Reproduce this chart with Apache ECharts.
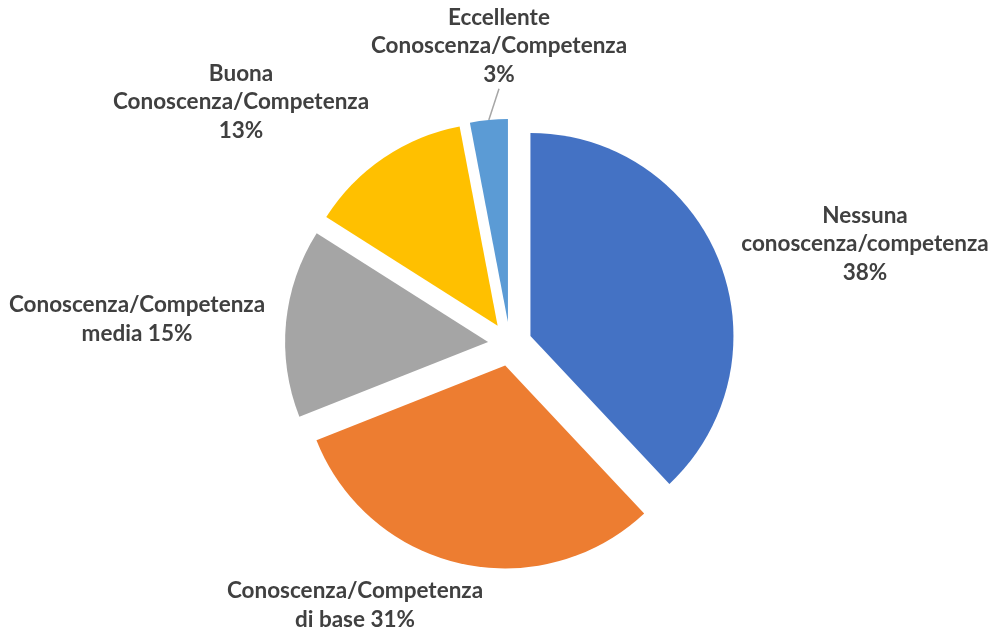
<!DOCTYPE html>
<html>
<head>
<meta charset="utf-8">
<script src="https://cdn.jsdelivr.net/npm/echarts@6/dist/echarts.min.js"></script>
<style>
  html, body { margin: 0; padding: 0; background: #fff; }
  #chartBox { width: 994px; height: 634px; }
</style>
</head>
<body>
<div id="chartBox"></div>
<script>
// categorie e valori (percentuali)
const categories = [
  'Nessuna\nconoscenza/competenza',
  'Conoscenza/Competenza\ndi base',
  'Conoscenza/Competenza\nmedia',
  'Buona\nConoscenza/Competenza',
  'Eccellente\nConoscenza/Competenza'
]
const values = [38, 31, 15, 13, 3]
const colors = ['#4472C4', '#ED7D31', '#A5A5A5', '#FFC000', '#5B9BD5']
// il numero va sulla stessa riga per media e base
const pctInline = [false, true, true, false, false]

// centro del testo delle etichette
const labelPos = [
  [865, 244],
  [355, 605],
  [137, 319],
  [241, 102],
  [499, 46]
]

const cx = 510
const cy = 344
const radius = 203
const explode = 22 // px, spostamento di ogni fetta

const total = values.reduce((a, b) => a + b, 0)

// una serie per fetta, con il centro spostato lungo la bisettrice
// (selectedOffset non va bene: lo stato "select" rimette a posto le etichette)
let cum = 0
const series = values.map((v, i) => {
  const mid = (cum + v / 2) / total * Math.PI * 2
  cum += v
  return {
    type: 'pie',
    center: [cx + explode * Math.sin(mid), cy - explode * Math.cos(mid)],
    radius: radius,
    startAngle: 90,
    clockwise: true,
    silent: true,
    avoidLabelOverlap: false,
    emphasis: { disabled: true },
    label: {
      show: true,
      position: 'outside',
      fontFamily: 'Lato',
      fontWeight: 'bold',
      fontSize: 22.5,
      lineHeight: 28.5,
      color: '#404040',
      align: 'center',
      formatter: p => {
        const k = p.dataIndex
        return categories[k] + (pctInline[k] ? ' ' : '\n') + values[k] + '%'
      }
    },
    labelLine: { show: false },
    labelLayout: p => {
      if (p.dataIndex !== i) return {}
      const pos = labelPos[i]
      return { x: pos[0], y: pos[1], align: 'center', verticalAlign: 'middle' }
    },
    data: values.map((w, j) => {
      if (j !== i) {
        return {
          name: categories[j],
          value: w,
          itemStyle: { color: 'rgba(0,0,0,0)' },
          label: { show: false },
          labelLine: { show: false }
        }
      }
      return {
        name: categories[j],
        value: w,
        itemStyle: { color: colors[j] },
        labelLine: j === 4
          ? { show: true, length: 12, length2: 0, lineStyle: { color: '#A6A6A6', width: 1.5 } }
          : { show: false }
      }
    })
  }
})

let myChart = echarts.init(document.getElementById('chartBox'))
myChart.setOption({
  animation: false,
  series: series
})
</script>
</body>
</html>
